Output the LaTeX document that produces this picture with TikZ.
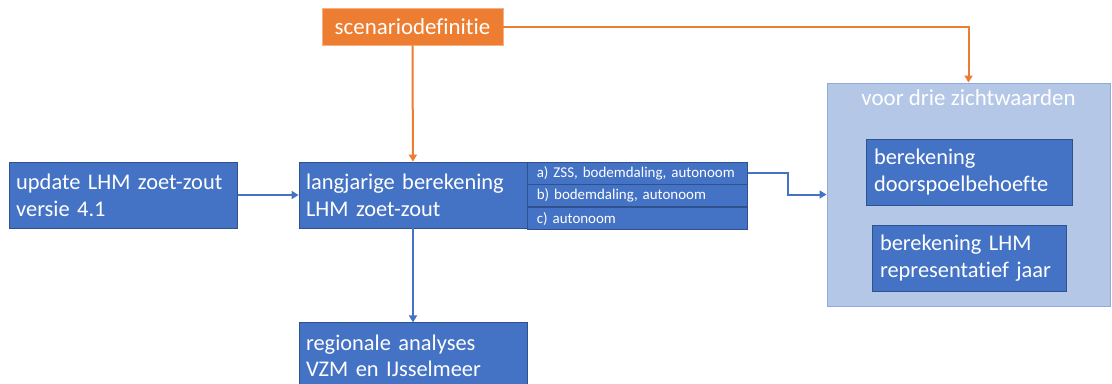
\documentclass[tikz,border=0pt]{standalone}
\usepackage{fontspec}
\setmainfont{Carlito}[Ligatures=NoCommon]
\usetikzlibrary{positioning,arrows.meta}
\definecolor{boxblue}{HTML}{4472C4}
\definecolor{boxblueline}{HTML}{2F528F}
\definecolor{groupfill}{HTML}{B4C7E7}
\definecolor{groupline}{HTML}{8FAADC}
\definecolor{scenorange}{HTML}{ED7D31}
\definecolor{scenline}{HTML}{F4B183}
\tikzset{
x=1bp, y=-1bp,
>={Triangle[length=7bp,width=8bp]},
bluebox/.style={draw=boxblueline, fill=boxblue, text=white, line width=0.8bp,
  minimum width=228bp, minimum height=66bp, text width=214bp, inner xsep=7bp,
  align=left, font=\fontsize{22.5}{27}\selectfont},
rowbox/.style={draw=boxblueline, fill=boxblue, text=white, line width=0.8bp,
  minimum width=220bp, minimum height=22bp, text width=202bp, inner xsep=9bp,
  inner ysep=0pt, align=left, font=\fontsize{15}{17}\selectfont},
scenbox/.style={draw=scenline, fill=scenorange, text=white, line width=0.8bp,
  minimum width=181bp, minimum height=37bp, font=\fontsize{23}{27}\selectfont},
groupbox/.style={draw=groupline, fill=groupfill, line width=1bp,
  minimum width=283bp, minimum height=223bp},
innerbox/.style={bluebox, minimum width=206bp, text width=190bp, inner xsep=8bp},
bluearrow/.style={->, draw=boxblue, line width=2bp},
orangearrow/.style={->, draw=scenorange, line width=2bp},
}
\begin{document}
\begin{tikzpicture}
    \useasboundingbox (0,0) rectangle (1112,383);
    \node[scenbox] (scen) at (412.5,26.5) {scenariodefinitie};
    \node[bluebox] (lang) at (413,195) {langjarige berekening\\LHM zoet-zout};
    \node[bluebox,left=61bp of lang] (update) {update LHM zoet-zout\\versie 4.1};
    \node[bluebox,below=94bp of lang] (regio) {regionale analyses\\VZM en IJsselmeer};

    % scenario table
    \node[rowbox,anchor=north west] (rowa) at (lang.north east) {a) ZSS, bodemdaling, autonoom};
    \node[rowbox,below=0bp of rowa] (rowb) {b) bodemdaling, autonoom};
    \node[rowbox,below=0bp of rowb] (rowc) {c) autonoom};

    % zichtwaarden
    \node[groupbox] (group) at (968.5,194.5) {};
    \node[text=white,font=\fontsize{23}{27}\selectfont,below=4bp of group.north] (grouptitle) {voor drie zichtwaarden};
    \node[innerbox] (doorspoel) at (969,172) {berekening\\doorspoelbehoefte};
    \node[innerbox,minimum width=194bp,text width=178bp] (repjaar) at (969,258) {berekening LHM\\representatief jaar};

    \draw[orangearrow] (scen) -- (lang);
    \draw[orangearrow] (scen.east) -| (group.north);
    \draw[bluearrow] (update) -- (lang);
    \draw[bluearrow] (rowa.east) -- ++(40,0) |- (group.west);
    \draw[bluearrow] (lang) -- (regio);
\end{tikzpicture}
\end{document}
